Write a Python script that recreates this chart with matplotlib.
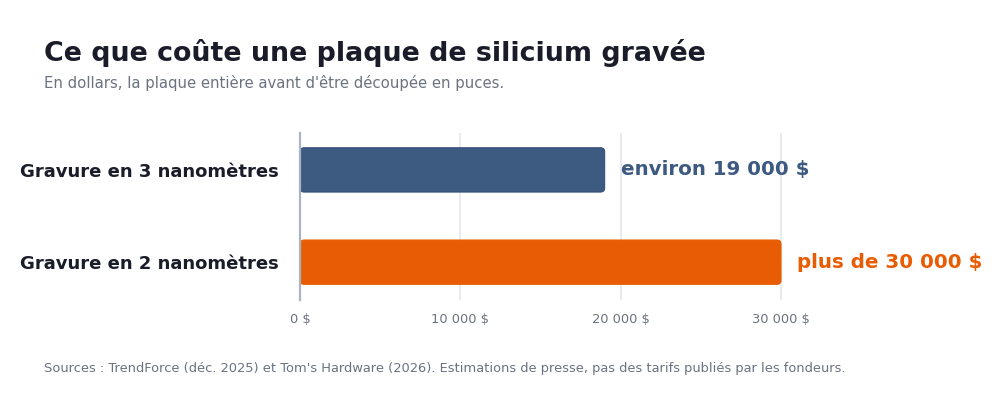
"""Coût d'une plaque de silicium gravée : barres horizontales 3 nm / 2 nm."""

import matplotlib

matplotlib.use("Agg")
import matplotlib.pyplot as plt
from matplotlib.patches import FancyBboxPatch
from matplotlib.ticker import FuncFormatter

CATEGORIES = ["Gravure en 3 nanomètres", "Gravure en 2 nanomètres"]
VALUES = [19000, 30000]
VALUE_LABELS = ["environ 19 000 $", "plus de 30 000 $"]
X_TICKS = [0, 10000, 20000, 30000]

BAR_COLORS = ["#3d5a80", "#e85d04"]
EDGE_COLORS = ["#34507a", "#e85d04"]
TEXT_DARK = "#1a1d29"
TEXT_GRAY = "#6b7280"
GRID_COLOR = "#e3e6eb"

TITLE = "Ce que coûte une plaque de silicium gravée"
SUBTITLE = "En dollars, la plaque entière avant d'être découpée en puces."
SOURCE = ("Sources : TrendForce (déc. 2025) et Tom's Hardware (2026). "
          "Estimations de presse, pas des tarifs publiés par les fondeurs.")


def fmt_dollars(x, _pos):
    return f"{int(x):,}".replace(",", " ") + " $"


def main() -> None:
    plt.rcParams["font.family"] = "DejaVu Sans"
    fig = plt.figure(figsize=(10, 4.04), dpi=100)
    x_max = 30600
    ax = fig.add_axes([0.300, 0.2574, 0.481 * x_max / 30000, 0.4134])

    y = list(range(len(CATEGORIES)))
    bars = ax.barh(y, VALUES, height=0.48, color=BAR_COLORS)
    ax.set_xlim(0, x_max)
    ax.set_ylim(1.41, -0.40)

    # swap plain rectangles for rounded ones, same data coordinates
    for bar, fc, ec in zip(bars, BAR_COLORS, EDGE_COLORS):
        bx, by = bar.get_x(), bar.get_y()
        bw, bh = bar.get_width(), bar.get_height()
        bar.set_visible(False)
        rounded = FancyBboxPatch(
            (bx, by), bw, bh,
            boxstyle="round,pad=0,rounding_size=260",
            mutation_aspect=0.043 / 260,
            facecolor=fc, edgecolor=ec, linewidth=0.8, zorder=3,
        )
        ax.add_patch(rounded)

    for yi, val, lab, col in zip(y, VALUES, VALUE_LABELS, BAR_COLORS):
        ax.text(val + 1000, yi, lab, color=col, fontsize=14.3, fontweight="bold",
                va="center", ha="left", clip_on=False)

    ax.set_yticks(y)
    ax.set_yticklabels(CATEGORIES, fontsize=13, fontweight="bold", color=TEXT_DARK)
    ax.tick_params(axis="y", length=0, pad=15)
    ax.set_xticks(X_TICKS)
    ax.xaxis.set_major_formatter(FuncFormatter(fmt_dollars))
    ax.tick_params(axis="x", length=0, pad=9, labelsize=9.4, labelcolor=TEXT_GRAY)

    ax.grid(axis="x", color=GRID_COLOR, linewidth=1.2, zorder=0)
    ax.set_axisbelow(True)
    for side in ["top", "right", "bottom"]:
        ax.spines[side].set_visible(False)
    ax.spines["left"].set_color("#a9b4c2")
    ax.spines["left"].set_linewidth(1.6)
    ax.spines["left"].set_zorder(4)

    fig.text(0.044, 1 - 61 / 404, TITLE, fontsize=19.4, fontweight="bold",
             color=TEXT_DARK, va="baseline", ha="left")
    fig.text(0.044, 1 - 88 / 404, SUBTITLE, fontsize=10.7, color=TEXT_GRAY,
             va="baseline", ha="left")
    fig.text(0.044, 1 - 372 / 404, SOURCE, fontsize=9.37, color=TEXT_GRAY,
             va="baseline", ha="left")

    fig.savefig("out.png", dpi=100, facecolor="white")
    plt.close(fig)


if __name__ == "__main__":
    main()
